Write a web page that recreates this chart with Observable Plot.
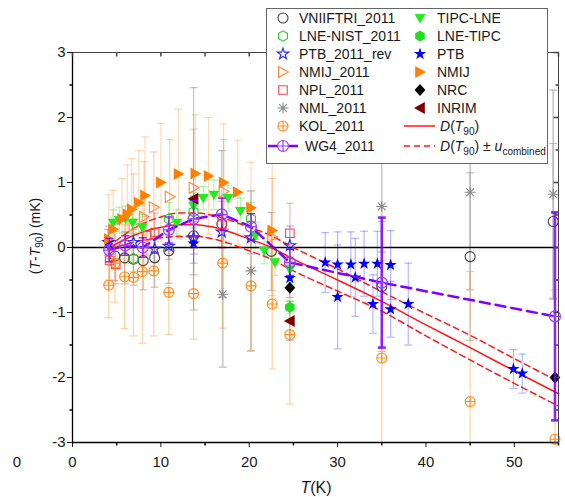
<!DOCTYPE html>
<html><head><meta charset="utf-8">
<script src="https://cdn.jsdelivr.net/npm/d3@7"></script>
<script src="https://cdn.jsdelivr.net/npm/@observablehq/plot@0.6"></script>
<style>body{margin:0;background:#fff;}#chart{width:565px;height:497px;}</style>
</head><body><div id="chart"></div>
<script>
// ---------------- data ----------------
const VNIIFTRI_T = [4.8, 5.9, 6.9, 8.0, 9.3, 10.9, 13.7, 16.9, 22.5, 35.0, 45.0, 54.4];
const VNIIFTRI_v = [-0.13, -0.16, -0.18, -0.20, -0.16, -0.05, 0.18, 0.36, -0.06, -0.60, -0.14, 0.40];
const VNIIFTRI_e = [0.38, 0.4, 0.4, 0.45, 0.45, 0.5, 0.6, 1.13, 0.6, 1.0, 1.29, 1.2];

const LNENIST_T = [6.9, 10.9, 13.7, 20.2];
const LNENIST_v = [-0.17, 0.44, 0.55, 0.44];
const LNENIST_e = [0.2, 0.25, 0.25, 0.25];

const PTBrev_T = [4.1, 6.9, 9.3, 10.9, 13.7, 16.9, 20.2, 24.6];
const PTBrev_v = [0.08, 0.08, -0.02, 0.02, 0.15, 0.24, 0.15, 0.03];
const PTBrev_e = [0.25, 0.2, 0.2, 0.2, 0.25, 0.25, 0.25, 0.3];

const NMIJ2011_T = [6.9, 8.1, 9.2, 11.0, 13.7, 17.1, 22.6];
const NMIJ2011_v = [0.33, 0.47, 0.62, 0.78, 0.92, 0.86, 0.16];
const NMIJ2011_e = [0.8, 0.85, 0.85, 0.88, 0.9, 0.8, 0.9];

const NPL_T = [4.2, 4.9, 8.4, 9.3, 16.9, 24.6];
const NPL_v = [-0.2, -0.26, 0.18, 0.23, 0.36, 0.22];
const NPL_e = [0.3, 0.3, 0.3, 0.3, 0.35, 0.46];

const NML_T = [17.0, 20.2, 35.0, 45.0, 54.4];
const NML_v = [-0.72, -0.36, 0.63, 0.85, 0.82];
const NML_e = [1.12, 1.23, 0.7, 1.5, 1.6];

const KOL_T = [4.1, 4.8, 5.9, 6.9, 7.9, 9.2, 10.9, 13.7, 17.0, 20.2, 22.6, 24.6, 35.0, 45.0, 54.6];
const KOL_v = [-0.58, -0.24, -0.45, -0.46, -0.37, -0.36, -0.69, -0.71, -0.24, -0.59, -0.87, -1.34, -1.70, -2.37, -2.95];
const KOL_e = [0.5, 0.6, 0.8, 0.9, 1.1, 1.0, 0.65, 0.7, 1.0, 1.0, 1.0, 1.07, 1.5, 2.0, 2.3];

const WG4_T = [4.15, 5.96, 7.96, 10.9, 13.7, 16.9, 20.2, 24.6, 35.0, 54.6];
const WG4_v = [-0.04, 0.03, 0.00, 0.27, 0.44, 0.51, 0.32, -0.23, -0.54, -1.06];
const WG4_e = [0.18, 0.15, 0.15, 0.2, 0.28, 0.25, 0.2, 0.2, 1.0, 1.6];

const TIPC_T = [4.6, 5.3, 6.0, 6.8, 7.9, 11.8, 13.7, 14.8, 16.0, 17.6, 19.0, 20.7, 21.7, 22.9, 24.6];
const TIPC_v = [0.38, 0.42, 0.44, 0.38, 0.31, 0.38, 0.64, 0.76, 0.81, 0.76, 0.56, 0.18, -0.05, -0.23, -0.34];
const TIPC_e = [0.2, 0.2, 0.2, 0.2, 0.2, 0.2, 0.2, 0.18, 0.23, 0.2, 0.2, 0.2, 0.2, 0.2, 0.2];

const LNETIPC_T = [24.6];
const LNETIPC_v = [-0.92];
const LNETIPC_e = [0.1];

const PTB_T = [4.0, 13.7, 24.6, 28.6, 30.0, 30.0, 31.5, 32.0, 33.0, 34.0, 34.5, 36.0, 36.0, 38.0, 49.9, 50.9];
const PTB_v = [0.08, 0.06, -0.47, -0.23, -0.26, -0.76, -0.26, -0.46, -0.25, -0.87, -0.25, -0.27, -0.95, -0.87, -1.87, -1.94];
const PTB_e = [0.2, 0.3, 0.3, 0.46, 0.5, 0.8, 0.5, 0.6, 0.5, 0.45, 0.5, 0.53, 0.43, 0.63, 0.3, 0.3];

const NMIJ_T = [4.1, 4.6, 5.6, 6.2, 6.7, 7.5, 8.2, 10.0, 12.0, 13.9, 15.4, 17.1, 18.7, 20.2, 22.6];
const NMIJ_v = [0.13, 0.28, 0.44, 0.51, 0.59, 0.69, 0.80, 1.00, 1.13, 1.14, 1.10, 1.00, 0.85, 0.61, 0.26];
const NMIJ_e = [0.68, 0.6, 0.62, 0.76, 0.78, 0.8, 0.9, 0.91, 1.0, 0.9, 0.9, 0.9, 0.8, 0.7, 1.05];

const NRC_T = [24.6, 54.6];
const NRC_v = [-0.62, -2.0];

const INRIM_T = [13.7, 24.6];
const INRIM_v = [0.75, -1.13];
const INRIM_e = [1.71, 0.3];

const DT_T = [4, 6, 8, 10, 12, 14, 16, 18, 20, 22, 25, 30, 35, 40, 45, 50, 55];
const DT_v = [-0.02, 0.13, 0.24, 0.31, 0.35, 0.35, 0.31, 0.23, 0.13, 0.03, -0.18, -0.50, -0.83, -1.19, -1.54, -1.90, -2.25];
const DT_u = [0.02, 0.08, 0.13, 0.16, 0.18, 0.18, 0.18, 0.18, 0.18, 0.18, 0.18, 0.17, 0.15, 0.17, 0.19, 0.19, 0.19];

const xDomain = [0, 55];
const yDomain = [-3, 3];
const xMajor = [0, 10, 20, 30, 40, 50];
const xMinor = [5, 15, 25, 35, 45, 55];
const yMajor = [-3, -2, -1, 0, 1, 2, 3];
const yMinor = [-2.5, -1.5, -0.5, 0.5, 1.5, 2.5];

// ---------------- symbols ----------------
const sym = f => ({draw(c, size) { f(c, Math.sqrt(size / Math.PI)); }});
const circle = sym((c, r) => { c.moveTo(r, 0); c.arc(0, 0, r, 0, 2 * Math.PI); });
const circlePlus = sym((c, r) => { c.moveTo(r, 0); c.arc(0, 0, r, 0, 2 * Math.PI); c.moveTo(-r, 0); c.lineTo(r, 0); c.moveTo(0, -r); c.lineTo(0, r); });
const hexagon = sym((c, r) => { for (let i = 0; i < 6; i++) { const a = Math.PI / 3 * i + Math.PI / 6; const x = r * Math.cos(a), y = r * Math.sin(a); i ? c.lineTo(x, y) : c.moveTo(x, y); } c.closePath(); });
const star = sym((c, r) => d3.symbolStar.draw(c, r * r / 0.8908));
const triRight = sym((c, r) => { c.moveTo(r, 0); c.lineTo(-r * 0.8, -r); c.lineTo(-r * 0.8, r); c.closePath(); });
const triLeft = sym((c, r) => { c.moveTo(-r, 0); c.lineTo(r * 0.8, -r); c.lineTo(r * 0.8, r); c.closePath(); });
const triDown = sym((c, r) => { c.moveTo(0, r); c.lineTo(-r, -r * 0.75); c.lineTo(r, -r * 0.75); c.closePath(); });
const square = sym((c, r) => { c.rect(-r * 0.85, -r * 0.85, r * 1.7, r * 1.7); });
const diamond = sym((c, r) => { c.moveTo(0, -r); c.lineTo(r * 0.9, 0); c.lineTo(0, r); c.lineTo(-r * 0.9, 0); c.closePath(); });
const asterisk = sym((c, r) => { for (const a of [0, 45, 90, 135]) { const t = a * Math.PI / 180; c.moveTo(-r * Math.cos(t), -r * Math.sin(t)); c.lineTo(r * Math.cos(t), r * Math.sin(t)); } });
const capSym = sym((c, r) => { c.moveTo(-r, 0); c.lineTo(r, 0); });
const tickSym = (dx, dy) => ({draw(c) { c.moveTo(0, 0); c.lineTo(dx, dy); }});

const mk = (T, v, e) => T.map((t, i) => ({T: t, v: v[i], e: e ? e[i] : 0}));

const series = [
  {name: "VNIIFTRI_2011", d: mk(VNIIFTRI_T, VNIIFTRI_v, VNIIFTRI_e), symbol: circle, r: 5, fill: "none", stroke: "#444", bar: "#777", op: 0.45},
  {name: "LNE-NIST_2011", d: mk(LNENIST_T, LNENIST_v, LNENIST_e), symbol: hexagon, r: 5.2, fill: "none", stroke: "#2fcf2f", bar: "#33dd33", op: 0.4},
  {name: "PTB_2011_rev", d: mk(PTBrev_T, PTBrev_v, PTBrev_e), symbol: star, r: 6, fill: "none", stroke: "#2b2bff", bar: "#4040ff", op: 0.35},
  {name: "NMIJ_2011", d: mk(NMIJ2011_T, NMIJ2011_v, NMIJ2011_e), symbol: triRight, r: 5.5, fill: "none", stroke: "#ff8a3d", bar: "#ff9a50", op: 0.45},
  {name: "NPL_2011", d: mk(NPL_T, NPL_v, NPL_e), symbol: square, r: 5, fill: "none", stroke: "#ff4545", bar: "#ff4545", op: 0.4},
  {name: "NML_2011", d: mk(NML_T, NML_v, NML_e), symbol: asterisk, r: 5.5, fill: "none", stroke: "#8a8a8a", bar: "#aaaaaa", op: 0.6, bw: 1.8},
  {name: "KOL_2011", d: mk(KOL_T, KOL_v, KOL_e), symbol: circlePlus, r: 5, fill: "none", stroke: "#ff8c1a", bar: "#ff9933", op: 0.45},
  {name: "TIPC-LNE", d: mk(TIPC_T, TIPC_v, TIPC_e), symbol: triDown, r: 5.5, fill: "#1fee1f", stroke: "none", bar: "#44ee44", op: 0.45},
  {name: "LNE-TIPC", d: mk(LNETIPC_T, LNETIPC_v, LNETIPC_e), symbol: hexagon, r: 5.5, fill: "#1fdd1f", stroke: "none", bar: "#44ee44", op: 0.45},
  {name: "PTB", d: mk(PTB_T, PTB_v, PTB_e), symbol: star, r: 6.5, fill: "#0000ff", stroke: "none", bar: "#3333ff", op: 0.35},
  {name: "NMIJ", d: mk(NMIJ_T, NMIJ_v, NMIJ_e), symbol: triRight, r: 6, fill: "#ff7f00", stroke: "none", bar: "#ff9933", op: 0.35},
  {name: "NRC", d: mk(NRC_T, NRC_v), symbol: diamond, r: 6, fill: "#000", stroke: "none", bar: "#000", op: 0.4},
  {name: "INRIM", d: mk(INRIM_T, INRIM_v, INRIM_e), symbol: triLeft, r: 6, fill: "#800000", stroke: "none", bar: "#b05050", op: 0.4}
];
const wg4 = mk(WG4_T, WG4_v, WG4_e);
const dt = DT_T.map((t, i) => ({T: t, v: DT_v[i], u: DT_u[i]}));

// ---------------- marks ----------------
const marks = [];
function errorBars(data, color, op, w) {
  const d = data.filter(p => p.e > 0);
  marks.push(Plot.ruleX(d, {x: "T", y1: p => p.v - p.e, y2: p => p.v + p.e, stroke: color, strokeOpacity: op, strokeWidth: w}));
  marks.push(Plot.dot(d.filter(p => p.v - p.e >= yDomain[0]), {x: "T", y: p => p.v - p.e, symbol: capSym, r: 4, stroke: color, strokeOpacity: op, strokeWidth: w, fill: "none"}));
  marks.push(Plot.dot(d.filter(p => p.v + p.e <= yDomain[1]), {x: "T", y: p => p.v + p.e, symbol: capSym, r: 4, stroke: color, strokeOpacity: op, strokeWidth: w, fill: "none"}));
}
for (const s of series) errorBars(s.d, s.bar, s.op, s.bw || 1.2);

marks.push(Plot.ruleY([0], {stroke: "#000", strokeWidth: 1.3}));

// D(T90) curves
marks.push(Plot.line(dt, {x: "T", y: "v", stroke: "#ff1a1a", strokeWidth: 1.5, curve: "monotone-x"}));
marks.push(Plot.line(dt, {x: "T", y: d => d.v + d.u, stroke: "#ff1a1a", strokeWidth: 1.5, strokeDasharray: "6,4", curve: "monotone-x"}));
marks.push(Plot.line(dt, {x: "T", y: d => d.v - d.u, stroke: "#ff1a1a", strokeWidth: 1.5, strokeDasharray: "6,4", curve: "monotone-x"}));

for (const s of series) {
  marks.push(Plot.dot(s.d, {x: "T", y: "v", symbol: s.symbol, r: s.r, fill: s.fill, stroke: s.stroke, strokeWidth: 1.1}));
}

// WG4
marks.push(Plot.ruleX(wg4, {x: "T", y1: p => p.v - p.e, y2: p => p.v + p.e, stroke: "#8000ff", strokeOpacity: 0.85, strokeWidth: p => p.e > 0.5 ? 2.6 : 1.4}));
marks.push(Plot.dot(wg4, {x: "T", y: p => p.v - p.e, symbol: capSym, r: 4, stroke: "#8000ff", strokeOpacity: 0.85, strokeWidth: p => p.e > 0.5 ? 2.6 : 1.4}));
marks.push(Plot.dot(wg4, {x: "T", y: p => p.v + p.e, symbol: capSym, r: 4, stroke: "#8000ff", strokeOpacity: 0.85, strokeWidth: p => p.e > 0.5 ? 2.6 : 1.4}));
marks.push(Plot.line(wg4, {x: "T", y: "v", stroke: "#8000ff", strokeWidth: 2.5, strokeDasharray: "10,6"}));
marks.push(Plot.dot(wg4, {x: "T", y: "v", symbol: circlePlus, r: 5.5, fill: "none", stroke: "#9a40ff", strokeWidth: 1.2}));

// frame & ticks
marks.push(Plot.frame({stroke: "#444", strokeWidth: 1}));
marks.push(Plot.ruleX([xDomain[0]], {stroke: "#000", strokeWidth: 1.3}));
marks.push(Plot.ruleY([yDomain[0]], {stroke: "#000", strokeWidth: 1.3}));
marks.push(Plot.dot(xMinor, {x: d => d, frameAnchor: "bottom", symbol: tickSym(0, 3), stroke: "#000", r: 1}));
marks.push(Plot.dot(xMajor.concat(xMinor), {x: d => d, frameAnchor: "top", symbol: tickSym(0, 4), stroke: "#444", r: 1}));
marks.push(Plot.dot(yMinor, {y: d => d, frameAnchor: "left", symbol: tickSym(-3, 0), stroke: "#000", r: 1}));
marks.push(Plot.dot(yMajor, {y: d => d, frameAnchor: "right", symbol: tickSym(-5, 0), stroke: "#444", r: 1}));
marks.push(Plot.dot(yMinor, {y: d => d, frameAnchor: "right", symbol: tickSym(-3, 0), stroke: "#444", r: 1}));

const svg = Plot.plot({
  width: 565, height: 497,
  marginLeft: 72, marginRight: 7, marginTop: 52, marginBottom: 55,
  style: {fontFamily: "Liberation Sans, Arial, sans-serif", fontSize: "15px", color: "#1a1a1a", background: "#fff", overflow: "visible"},
  x: {domain: xDomain, ticks: xMajor, tickSize: 5, tickPadding: 9, label: null, tickFormat: d => String(d)},
  y: {domain: yDomain, ticks: yMajor, tickSize: 5, tickPadding: 2, label: null, tickFormat: d => String(d), clamp: true},
  marks
});
document.getElementById("chart").appendChild(svg);

// ---------------- labels & legend ----------------
const S = d3.select(svg);
const FONT = "Liberation Sans, Arial, sans-serif";

const yl = S.append("text").attr("transform", "translate(35,236) rotate(-90)")
  .attr("text-anchor", "middle").attr("dominant-baseline", "central")
  .attr("font-family", FONT).attr("font-size", 14).attr("fill", "#1a1a1a");
yl.append("tspan").text("(");
yl.append("tspan").attr("font-style", "italic").text("T");
yl.append("tspan").text("-");
yl.append("tspan").attr("font-style", "italic").text("T");
yl.append("tspan").attr("font-size", 10).attr("dy", 4).text("90");
yl.append("tspan").attr("dy", -4).text(") (mK)");

const xl = S.append("text").attr("x", 316).attr("y", 493).attr("text-anchor", "middle")
  .attr("font-family", FONT).attr("font-size", 16).attr("fill", "#1a1a1a");
xl.append("tspan").attr("font-style", "italic").text("T");
xl.append("tspan").text("(K)");

S.append("text").attr("x", 17).attr("y", 467).attr("text-anchor", "middle")
  .attr("font-family", FONT).attr("font-size", 15).attr("fill", "#1a1a1a").text("0");

const L = S.append("g").attr("font-family", FONT).attr("font-size", 14).attr("text-anchor", "start");
L.append("rect").attr("x", 266.5).attr("y", 8.5).attr("width", 281).attr("height", 155)
  .style("fill", "#ffffff").style("stroke", "#666666").style("stroke-width", "1px");

function symPath(s, r) { const p = d3.path(); s.draw(p, Math.PI * r * r); return p.toString(); }
function legText(x, y) {
  return L.append("text").attr("x", x).attr("y", y).attr("dy", "0.35em").attr("text-anchor", "start").style("fill", "#1a1a1a");
}
function legItem(s, x, y, tx) {
  L.append("path").attr("transform", `translate(${x},${y})`).attr("d", symPath(s.symbol, s.r))
    .style("fill", s.fill).style("stroke", s.stroke).style("stroke-width", "1.1px");
  legText(tx, y).text(s.name);
}
const rows = [18, 36, 54, 72, 90, 108, 126, 146];
const col1 = ["VNIIFTRI_2011", "LNE-NIST_2011", "PTB_2011_rev", "NMIJ_2011", "NPL_2011", "NML_2011", "KOL_2011"];
const col2 = ["TIPC-LNE", "LNE-TIPC", "PTB", "NMIJ", "NRC", "INRIM"];
col1.forEach((n, i) => legItem(series.find(s => s.name === n), 283, rows[i], 299));
col2.forEach((n, i) => legItem(series.find(s => s.name === n), 420, rows[i], 437));

// WG4 legend
L.append("line").attr("x1", 268).attr("x2", 298).attr("y1", rows[7]).attr("y2", rows[7]).style("stroke", "#8000ff").style("stroke-width", "2.5px");
L.append("path").attr("transform", `translate(283,${rows[7]})`).attr("d", symPath(circlePlus, 5.5)).style("fill", "#fff").style("stroke", "#9a40ff").style("stroke-width", "1.2px");
legText(305, rows[7]).text("WG4_2011");

// D(T90) legend
L.append("line").attr("x1", 404).attr("x2", 435).attr("y1", rows[6]).attr("y2", rows[6]).style("stroke", "#ff1a1a").style("stroke-width", "1.5px");
const t1 = legText(440, rows[6]);
t1.append("tspan").attr("font-style", "italic").text("D");
t1.append("tspan").text("(");
t1.append("tspan").attr("font-style", "italic").text("T");
t1.append("tspan").attr("font-size", 10).attr("dy", 4).text("90");
t1.append("tspan").attr("dy", -4).text(")");

L.append("line").attr("x1", 404).attr("x2", 435).attr("y1", rows[7]).attr("y2", rows[7]).style("stroke", "#ff1a1a").style("stroke-width", "1.5px").style("stroke-dasharray", "6,4");
const t2 = legText(440, rows[7]);
t2.append("tspan").attr("font-style", "italic").text("D");
t2.append("tspan").text("(");
t2.append("tspan").attr("font-style", "italic").text("T");
t2.append("tspan").attr("font-size", 10).attr("dy", 4).text("90");
t2.append("tspan").attr("dy", -4).text(") ± ");
t2.append("tspan").attr("font-style", "italic").text("u");
t2.append("tspan").attr("font-size", 10).attr("dy", 4).text("combined");
</script>
</body></html>
